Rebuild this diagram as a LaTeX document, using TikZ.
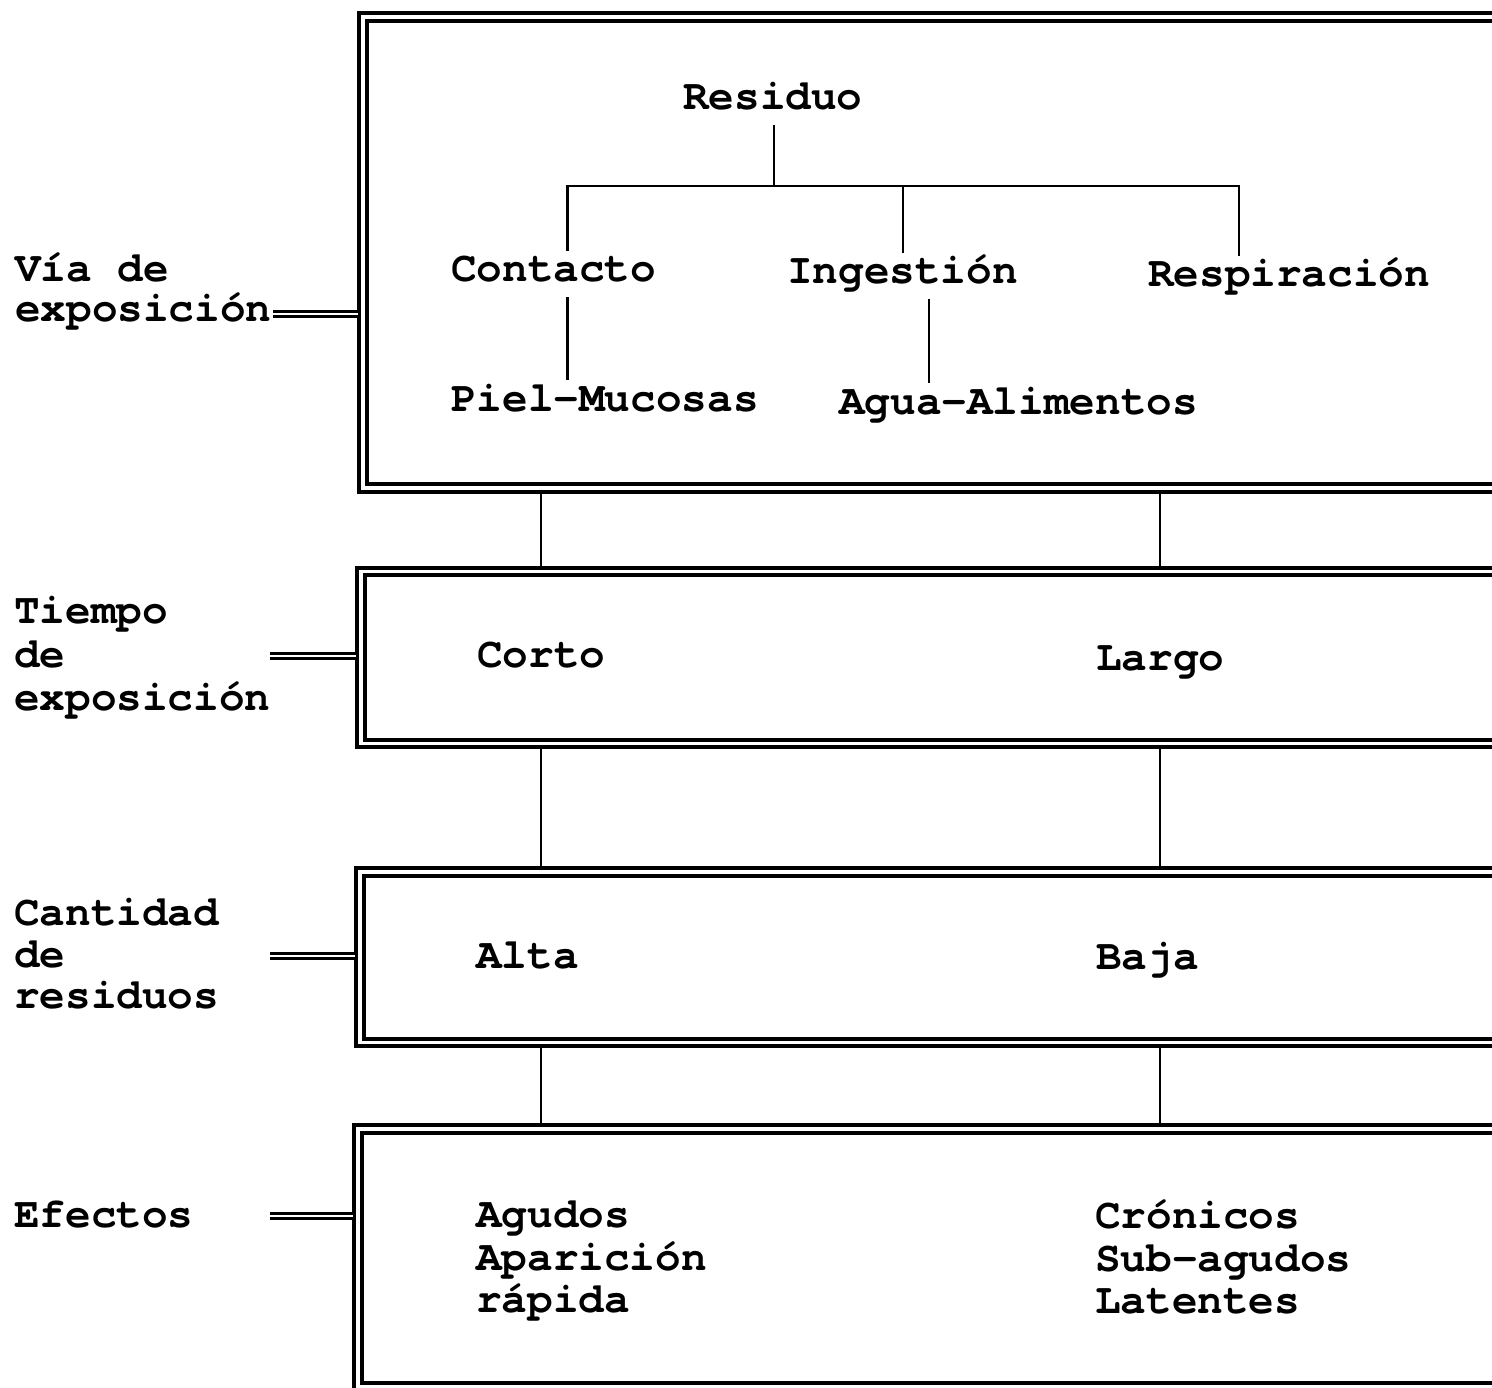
\documentclass[tikz,border=0pt]{standalone}
\usepackage{fontspec}
\newfontfamily\cour{TeX Gyre Cursor}
\tikzset{
  txt/.style={font=\cour\bfseries\fontsize{42.7pt}{43pt}\selectfont, inner sep=0pt, anchor=base west},
  treetxt/.style={txt, inner ysep=6pt, text height=25pt, text depth=9pt},
  dbox/.style={draw, double, line width=3.8pt, double distance=3.5pt, outer sep=0pt,
    anchor=north west, minimum width=1250pt, inner sep=0pt},
  dline/.style={draw, double, line width=2.6pt, double distance=2.2pt, shorten >=5pt},
  conn/.style={line width=2.8pt, shorten <=5pt, shorten >=5pt},
  tree/.style={line width=2.8pt}
}
\begin{document}
\begin{tikzpicture}[x=1pt,y=-1pt]
\useasboundingbox (0,0) rectangle (1492,1388);
\fill[white] (0,0) rectangle (1492,1388);
\clip (0,0) rectangle (1492,1388);

% boxes
\node[dbox, minimum height=471pt] (box1) at (363,17) {};
\node[dbox, minimum height=172pt] (box2) at (361,571.5) {};
\node[dbox, minimum height=170.5pt] (box3) at (360,872) {};
\node[dbox, minimum height=258pt] (box4) at (358,1129) {};

% left labels
\node[txt] (via1) at (15,282) {Vía de};
\node[txt] (via2) at (15,322) {exposición};
\node[txt] (tie1) at (14,623) {Tiempo};
\node[txt] (tie2) at (14,667) {de};
\node[txt] (tie3) at (14,710) {exposición};
\node[txt] (can1) at (14,925) {Cantidad};
\node[txt] (can2) at (14,967) {de};
\node[txt] (can3) at (14,1008) {residuos};
\node[txt] (efe) at (14,1227) {Efectos};

% label connectors
\coordinate (d1) at (273,314);
\coordinate (d2) at (270,656);
\coordinate (d3) at (270,956);
\coordinate (d4) at (270,1216);
\draw[dline] (d1) -- (d1 -| box1.west);
\draw[dline] (d2) -- (d2 -| box2.west);
\draw[dline] (d3) -- (d3 -| box3.west);
\draw[dline] (d4) -- (d4 -| box4.west);

% tree in box 1
\node[treetxt] (res) at (683,110) {Residuo};
\node[treetxt] (con) at (451,282) {Contacto};
\node[treetxt] (ing) at (787,284) {Ingestión};
\node[treetxt] (resp) at (1148,287) {Respiración};
\node[treetxt] (piel) at (451,411) {Piel-Mucosas};
\node[treetxt] (agua) at (839,414) {Agua-Alimentos};
\coordinate (jr0) at (774,186);
\coordinate (jc) at (567.5,186);
\coordinate (ji) at (903,186);
\coordinate (jp) at (1239,186);
\coordinate (ja) at (929,0);
\draw[tree] (jr0 |- res.south) -- (jr0);
\draw[tree] (jc |- con.north) -- (jc) -- (jp) -- (jp |- resp.north);
\draw[tree] (ji) -- (ji |- ing.north);
\draw[tree] (jc |- con.south) -- (jc |- piel.north);
\draw[tree] (ja |- ing.south) -- (ja |- agua.north);

% box contents
\node[txt] (corto) at (477,667) {Corto};
\node[txt] (largo) at (1096,670) {Largo};
\node[txt] (alta) at (476,968) {Alta};
\node[txt] (baja) at (1096,969) {Baja};
\node[txt] (agu1) at (476,1227) {Agudos};
\node[txt] (agu2) at (476,1270) {Aparición};
\node[txt] (agu3) at (476,1312) {rápida};
\node[txt] (cro1) at (1095,1228) {Crónicos};
\node[txt] (cro2) at (1095,1271) {Sub-agudos};
\node[txt] (cro3) at (1095,1313) {Latentes};

% vertical connectors between boxes
\coordinate (xa) at (541,0);
\coordinate (xb) at (1160,0);
\draw[conn] (xa |- box1.south) -- (xa |- box2.north);
\draw[conn] (xb |- box1.south) -- (xb |- box2.north);
\draw[conn] (xa |- box2.south) -- (xa |- box3.north);
\draw[conn] (xb |- box2.south) -- (xb |- box3.north);
\draw[conn] (xa |- box3.south) -- (xa |- box4.north);
\draw[conn] (xb |- box3.south) -- (xb |- box4.north);
\end{tikzpicture}
\end{document}
